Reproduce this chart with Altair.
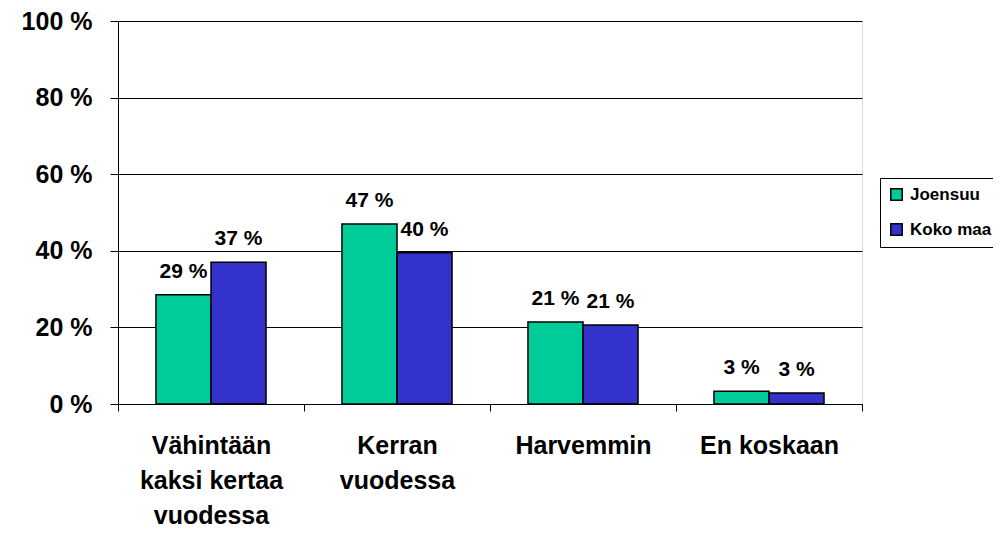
import altair as alt
import pandas as pd

categories = ["Vähintään|kaksi kertaa|vuodessa", "Kerran|vuodessa", "Harvemmin", "En koskaan"]
series = ["Joensuu", "Koko maa"]
joensuu = [28.5, 47.0, 21.4, 3.3]
koko_maa = [37.0, 39.5, 20.6, 2.9]
labels_j = ["29 %", "47 %", "21 %", "3 %"]
labels_k = ["37 %", "40 %", "21 %", "3 %"]

rows = []
for i, c in enumerate(categories):
    rows.append({"cat": c, "series": series[0], "value": joensuu[i], "label": labels_j[i]})
    rows.append({"cat": c, "series": series[1], "value": koko_maa[i], "label": labels_k[i]})
df = pd.DataFrame(rows)

FONT = "Liberation Sans"

x = alt.X("cat:N", sort=categories, title=None,
          scale=alt.Scale(paddingInner=0, paddingOuter=0),
          axis=alt.Axis(labelExpr="split(datum.label, '|')", labelAngle=0,
                        labelFont=FONT, labelFontSize=25, labelFontWeight="bold",
                        labelColor="black", labelLineHeight=35, labelPadding=22,
                        tickColor="black", tickSize=7, tickBand="extent",
                        domainColor="black", labelBaseline="top"))
xo = alt.XOffset("series:N", sort=series,
                 scale=alt.Scale(paddingInner=0, paddingOuter=0.69))
y = alt.Y("value:Q", title=None,
          scale=alt.Scale(domain=[0, 100], nice=False),
          axis=alt.Axis(values=[0, 20, 40, 60, 80, 100], labelExpr="datum.value + ' %'",
                        labelFont=FONT, labelFontSize=25, labelFontWeight="bold",
                        labelColor="black", labelPadding=18, tickSize=8, tickColor="black",
                        grid=True, gridColor="black", gridWidth=1, domainColor="black"))

color = alt.Color("series:N", sort=series,
                  scale=alt.Scale(domain=series, range=["#00CC99", "#3333CC"]),
                  legend=alt.Legend(title=None, orient="none", legendX=762, legendY=157,
                                    symbolType="square", symbolSize=130,
                                    symbolStrokeColor="black", symbolStrokeWidth=1.5,
                                    labelFont=FONT, labelFontSize=17, labelFontWeight="bold",
                                    labelColor="black", rowPadding=16, labelOffset=5,
                                    strokeColor="black", padding=8))

bars = alt.Chart(df).mark_bar(stroke="black", strokeWidth=1.5).encode(
    x=x, xOffset=xo, y=y, color=color)

text = alt.Chart(df).mark_text(font=FONT, fontSize=21, fontWeight="bold",
                               baseline="alphabetic", dy=-17, color="black").encode(
    x=alt.X("cat:N", sort=categories), xOffset=alt.XOffset("series:N", sort=series),
    y="value:Q", text="label:N")

chart = (bars + text).properties(
    width=744, height=383,
    autosize=alt.AutoSizeParams(type="none"),
    padding={"left": 110, "top": 13, "right": 131, "bottom": 126},
).configure_view(stroke="black", strokeWidth=1.2).configure(background="white")

chart.save("out.html", embed_options={"renderer": "svg", "actions": False})
